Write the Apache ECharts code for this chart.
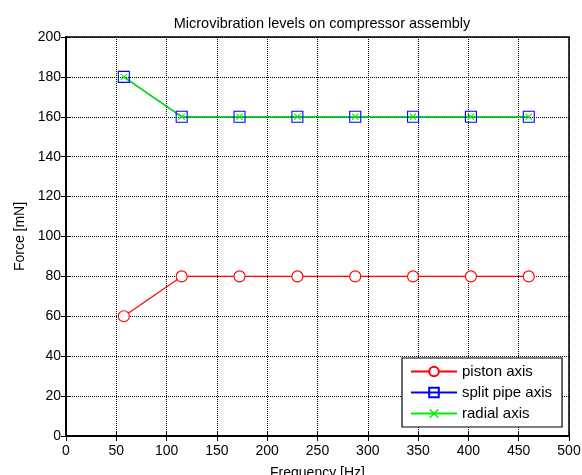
<!DOCTYPE html>
<html>
<head>
<meta charset="utf-8">
<script src="https://cdn.jsdelivr.net/npm/echarts@6/dist/echarts.min.js"></script>
<style>
  html, body { margin: 0; padding: 0; background: #fff; }
  #chart { width: 582px; height: 475px; }
</style>
</head>
<body>
<div id="chart"></div>
<script>
// Measured frequencies (Hz) and force levels (mN) per axis
const frequencies = [57.5, 115, 172.5, 230, 287.5, 345, 402.5, 460];
const pistonAxis = [60, 80, 80, 80, 80, 80, 80, 80];
const splitPipeAxis = [180, 160, 160, 160, 160, 160, 160, 160];
const radialAxis = [180, 160, 160, 160, 160, 160, 160, 160];
const seriesNames = ['piston axis', 'split pipe axis', 'radial axis'];

const FONT = 'Liberation Sans, Arial, sans-serif';
const crossPath = 'path://M0,1L1,0L5,4L9,0L10,1L6,5L10,9L9,10L5,6L1,10L0,9L4,5Z';

function pairs(xs, ys) { return xs.map((x, i) => [x, ys[i]]); }

const chart = echarts.init(document.getElementById('chart'), null, { renderer: 'canvas' });

const gridLine = { show: true, lineStyle: { color: '#000', type: [1, 1], width: 1 } };
const labelStyle = { color: '#000', fontFamily: FONT, fontSize: 14 };
const edgeAxisLine = { show: true, lineStyle: { color: '#000', width: 1.5 } };
const edgeTick = { show: true, inside: true, length: 5, lineStyle: { color: '#000' } };

chart.setOption({
  animation: false,
  backgroundColor: '#fff',
  title: {
    text: 'Microvibration levels on compressor assembly',
    left: 317, top: 11, textAlign: 'center',
    textStyle: { fontFamily: FONT, fontSize: 14.5, fontWeight: 'normal', color: '#000' }
  },
  grid: {
    left: 66, right: 13, top: 37, bottom: 39,
    outerBoundsMode: 'none', containLabel: false,
    show: true, borderColor: '#000', borderWidth: 1.5
  },
  legend: {
    orient: 'vertical', left: 402, top: 358, width: 161,
    padding: [6, 10, 6, 8], itemGap: 6,
    itemWidth: 46, itemHeight: 12,
    backgroundColor: '#fff', borderColor: '#000', borderWidth: 1.2,
    textStyle: { fontFamily: FONT, fontSize: 15, color: '#000' },
    data: seriesNames
  },
  xAxis: [{
    type: 'value', min: 0, max: 500, interval: 50,
    name: 'Frequency [Hz]', nameLocation: 'middle', nameGap: 30,
    nameTextStyle: { fontFamily: FONT, fontSize: 14, color: '#000' },
    axisLine: edgeAxisLine, axisTick: edgeTick,
    axisLabel: Object.assign({ margin: 8 }, labelStyle),
    splitLine: gridLine
  }, {
    type: 'value', min: 0, max: 500, interval: 50, position: 'top',
    axisLine: edgeAxisLine, axisTick: edgeTick,
    axisLabel: { show: false }, splitLine: { show: false }
  }],
  yAxis: [{
    type: 'value', min: 0, max: 200, interval: 20,
    name: 'Force [mN]', nameLocation: 'middle', nameGap: 38,
    nameTextStyle: { fontFamily: FONT, fontSize: 14, color: '#000' },
    axisLine: edgeAxisLine, axisTick: edgeTick,
    axisLabel: Object.assign({ margin: 5 }, labelStyle),
    splitLine: gridLine
  }, {
    type: 'value', min: 0, max: 200, interval: 20, position: 'right',
    axisLine: edgeAxisLine, axisTick: edgeTick,
    axisLabel: { show: false }, splitLine: { show: false }
  }],
  series: [{
    name: seriesNames[0], type: 'line', data: pairs(frequencies, pistonAxis),
    symbol: 'circle', symbolSize: 11,
    itemStyle: { color: '#fff', borderColor: '#ff0000', borderWidth: 1.1 },
    lineStyle: { color: '#ff0000', width: 1.2 }, color: '#ff0000'
  }, {
    name: seriesNames[1], type: 'line', data: pairs(frequencies, splitPipeAxis),
    symbol: 'rect', symbolSize: 11,
    itemStyle: { color: 'rgba(255,255,255,0)', borderColor: '#0000ff', borderWidth: 1.1 },
    lineStyle: { color: '#0000ff', width: 1.2 }, color: '#0000ff'
  }, {
    name: seriesNames[2], type: 'line', data: pairs(frequencies, radialAxis),
    symbol: crossPath, symbolSize: 7,
    itemStyle: { color: '#00ee00' },
    lineStyle: { color: '#00ee00', width: 1.5 }, color: '#00ee00'
  }]
});
</script>
</body>
</html>
